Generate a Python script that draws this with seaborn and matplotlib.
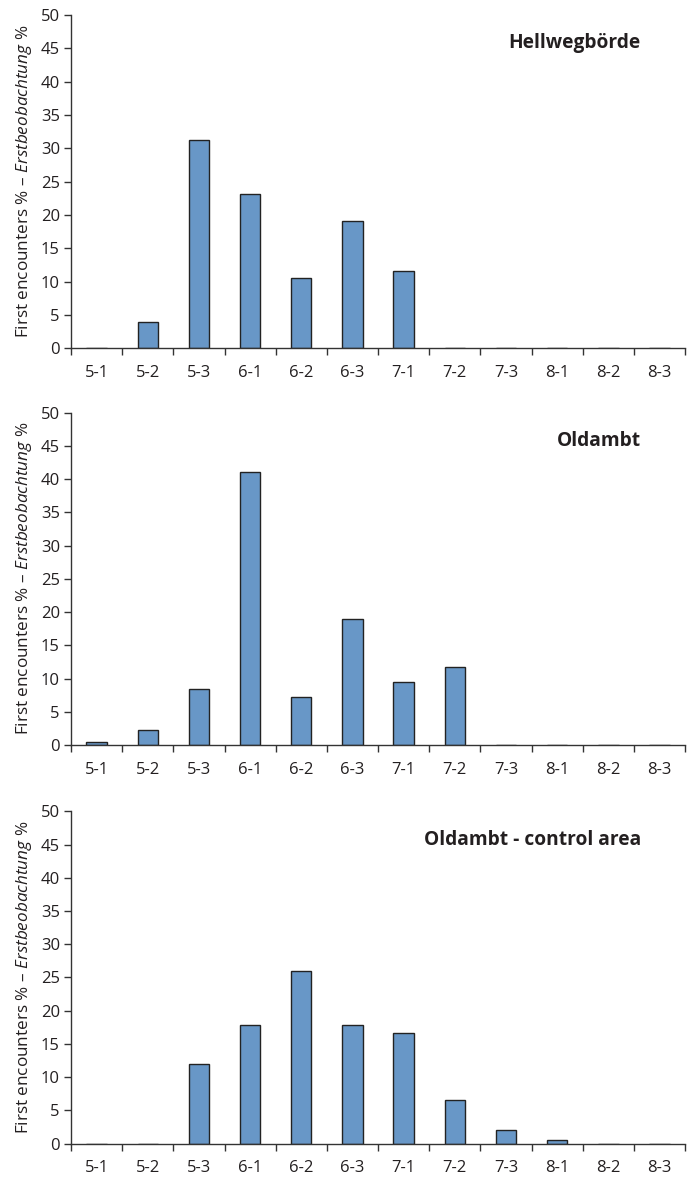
import matplotlib
matplotlib.use("Agg")
import matplotlib.pyplot as plt
import seaborn as sns
import pandas as pd

# fortnight periods (month-third)
periods = ['5-1', '5-2', '5-3', '6-1', '6-2', '6-3',
           '7-1', '7-2', '7-3', '8-1', '8-2', '8-3']

hellweg = [0, 3.9, 31.2, 23.2, 10.5, 19.1, 11.6, 0, 0, 0, 0, 0]
oldambt = [0.4, 2.3, 8.4, 41.1, 7.2, 18.9, 9.5, 11.8, 0, 0, 0, 0]
control = [0, 0, 12.0, 17.8, 26.0, 17.8, 16.6, 6.6, 2.0, 0.6, 0, 0]

titles = ['Hellwegbörde', 'Oldambt', 'Oldambt - control area']
series = [hellweg, oldambt, control]

sns.set_style("ticks")
plt.rcParams['font.family'] = ['Open Sans', 'DejaVu Sans']
plt.rcParams['mathtext.fontset'] = 'custom'
plt.rcParams['mathtext.rm'] = 'Open Sans'
plt.rcParams['mathtext.it'] = 'Open Sans:italic'

txt = '#231f20'
bar_color = '#6897c7'

fig = plt.figure(figsize=(6.9, 11.79), dpi=100)
# axes boxes in figure fractions (left, bottom, width, height)
boxes = [
    (0.1029, 0.7046, 0.8899, 0.2827),
    (0.1029, 0.3681, 0.8899, 0.2819),
    (0.1029, 0.0300, 0.8899, 0.2819),
]

for box, vals, title in zip(boxes, series, titles):
    ax = fig.add_axes(box)
    df = pd.DataFrame({'period': periods, 'pct': vals})
    sns.barplot(data=df, x='period', y='pct', order=periods, color=bar_color,
                edgecolor='#222222', linewidth=1.0, width=0.4, saturation=1, ax=ax)
    ax.set_xlim(-0.5, len(periods) - 0.5)
    ax.set_ylim(0, 50)
    ax.set_yticks(range(0, 51, 5))
    # boundary ticks (no labels) and centred labels
    ax.set_xticks([i - 0.5 for i in range(len(periods) + 1)])
    ax.set_xticklabels([])
    ax.set_xticks(range(len(periods)), minor=True)
    ax.set_xticklabels(periods, minor=True, fontsize=12)
    ax.tick_params(axis='x', which='major', length=5, width=1, color='#333333')
    ax.tick_params(axis='x', which='minor', length=0, pad=12, labelcolor=txt)
    ax.tick_params(axis='y', length=5, width=1, color='#333333', pad=3,
                   labelsize=12, labelcolor=txt)
    sns.despine(ax=ax)
    for s in ['left', 'bottom']:
        ax.spines[s].set_color('#333333')
        ax.spines[s].set_linewidth(1)
    ax.set_xlabel('')
    ax.set_ylabel(r'First encounters % – $\mathit{Erstbeobachtung}$ %',
                  fontsize=12.3, color=txt, labelpad=5)
    ax.text(0.928, 0.915, title, transform=ax.transAxes, ha='right', va='center',
            fontsize=13.8, fontweight='bold', color=txt)

fig.savefig('out.png', dpi=100)
